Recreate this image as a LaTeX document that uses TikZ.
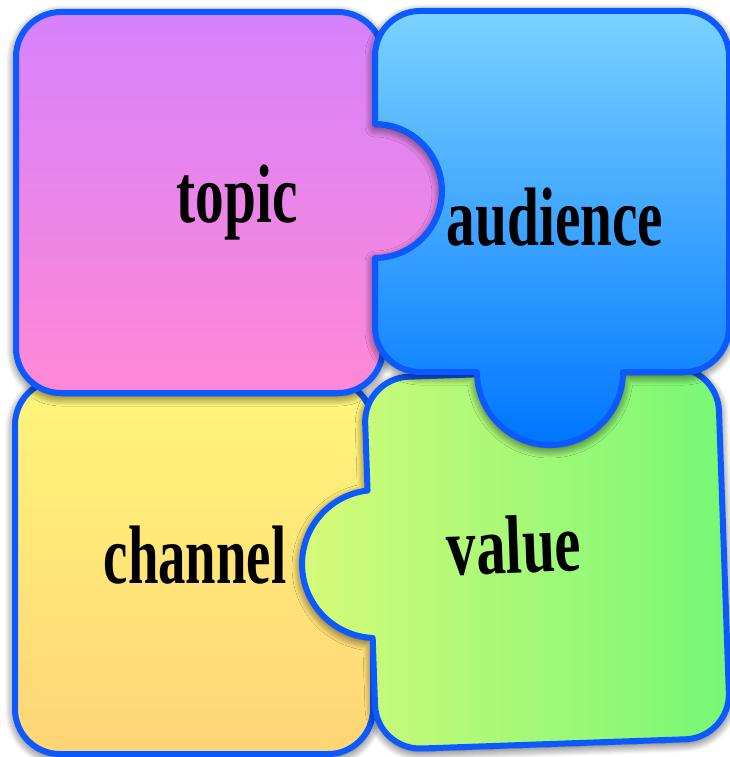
\documentclass[tikz,border=0pt]{standalone}
\usepackage{fontspec}
\setmainfont{Liberation Serif}
\usetikzlibrary{shadows.blur}
\definecolor{edge}{RGB}{12,90,255}
\definecolor{pinkT}{RGB}{214,130,252}
\definecolor{pinkB}{RGB}{255,136,214}
\definecolor{blueT}{RGB}{122,210,255}
\definecolor{blueB}{RGB}{0,118,255}
\definecolor{yelT}{RGB}{255,246,122}
\definecolor{yelB}{RGB}{255,212,118}
\definecolor{grnL}{RGB}{214,250,120}
\definecolor{grnR}{RGB}{118,248,118}
\begin{document}
\begin{tikzpicture}[x=1pt,y=-1pt,
  piece/.style={draw=edge, line width=6pt, line join=round},
  shad/.style={blur shadow={shadow xshift=0pt, shadow yshift=-3pt, shadow blur radius=10pt, shadow blur steps=10, shadow opacity=80}},
  lbl/.style={anchor=base, inner sep=0pt, font=\fontsize{83}{90}\selectfont\bfseries}]
\useasboundingbox (0,0) rectangle (730,757);
\clip (0,0) rectangle (730,757);
% channel (yellow)
\path[piece, shad, top color=yelT, bottom color=yelB]
  (60,380) -- (328,380) arc[start angle=-90,end angle=0,radius=45]
  -- (373,709) arc[start angle=0,end angle=90,radius=45]
  -- (60,754) arc[start angle=90,end angle=180,radius=45]
  -- (15,425) arc[start angle=180,end angle=270,radius=45] -- cycle;
% topic (pink)
\path[piece, shad, top color=pinkT, bottom color=pinkB]
  (61,12) -- (338,12) arc[start angle=-90,end angle=0,radius=45]
  -- (383,124.5) arc[start angle=-83.1,end angle=83.1,radius=67]
  -- (383,348) arc[start angle=0,end angle=90,radius=45]
  -- (61,393) arc[start angle=90,end angle=180,radius=45]
  -- (16,57) arc[start angle=180,end angle=270,radius=45] -- cycle;
% value (green)
\begin{scope}[rotate around={2:(547,558)}]
\path[piece, shad, left color=grnL, right color=grnR]
  (415,372) -- (679,372) arc[start angle=-90,end angle=0,radius=45]
  -- (724,699) arc[start angle=0,end angle=90,radius=45]
  -- (415,744) arc[start angle=90,end angle=180,radius=45]
  -- (370,631.8) arc[start angle=94.6,end angle=265.4,radius=74]
  -- (370,417) arc[start angle=180,end angle=270,radius=45] -- cycle;
\end{scope}
% audience (blue)
\path[piece, shad, top color=blueT, bottom color=blueB]
  (420,11) -- (684,11) arc[start angle=-90,end angle=0,radius=45]
  -- (729,327) arc[start angle=0,end angle=90,radius=45]
  -- (623,372) arc[start angle=0,end angle=180,radius=73]
  -- (420,372) arc[start angle=90,end angle=180,radius=45]
  -- (375,258) arc[start angle=90,end angle=-90,radius=67]
  -- (375,56) arc[start angle=180,end angle=270,radius=45] -- cycle;
% labels
\node[lbl] (topic) at (237,222) {\scalebox{0.69}[1]{topic}};
\node[lbl] (audience) at (555,245) {\scalebox{0.69}[1]{audience}};
\node[lbl] (channel) at (195,583) {\scalebox{0.66}[1]{channel}};
\node[lbl, rotate=2] (value) at (515,573) {\scalebox{0.71}[1]{value}};
\end{tikzpicture}
\end{document}
